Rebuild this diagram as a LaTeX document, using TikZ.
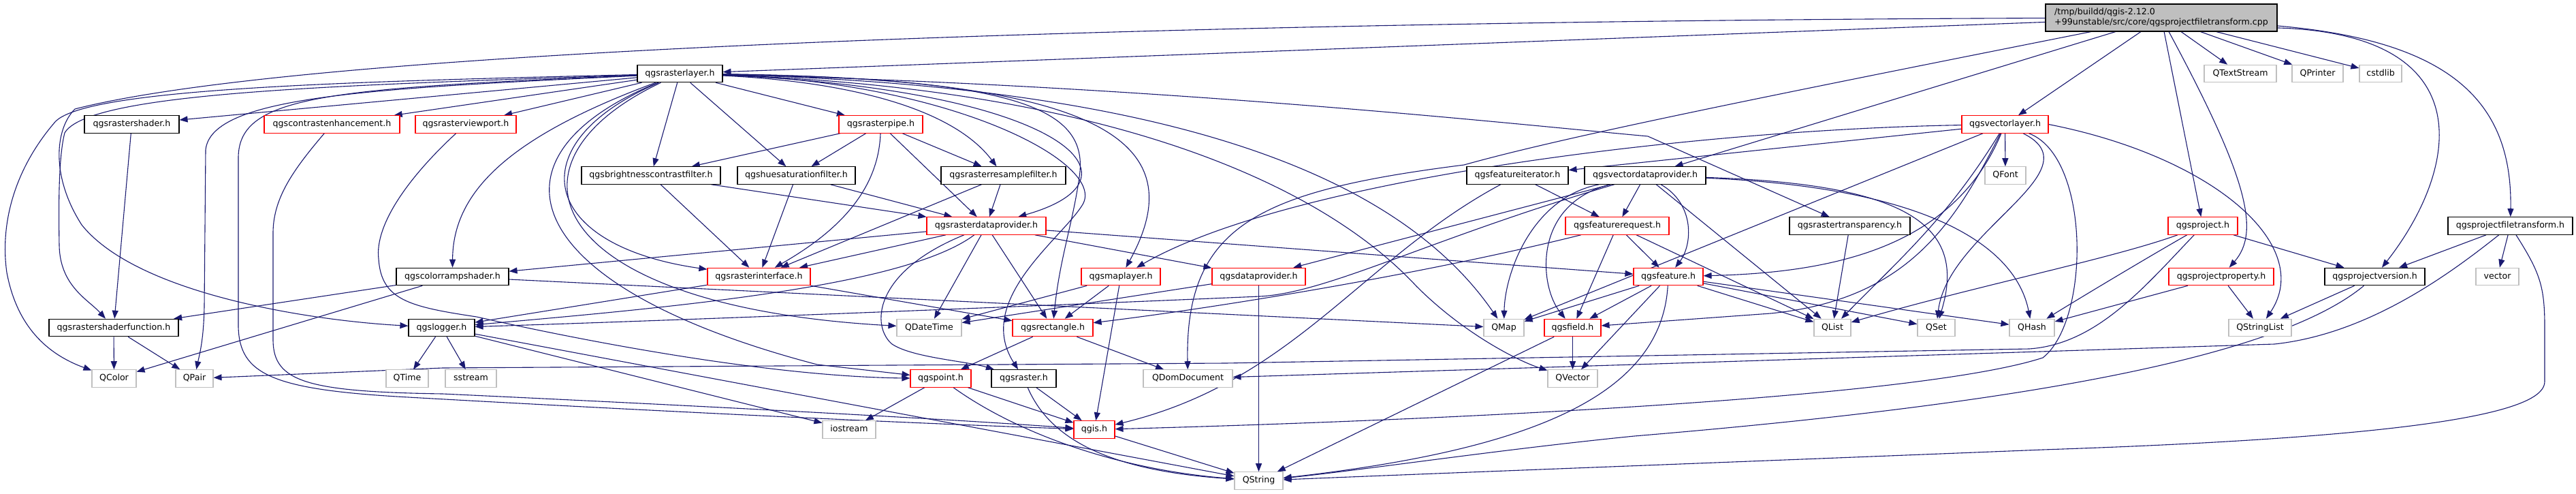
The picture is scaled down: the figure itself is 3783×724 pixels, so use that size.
\documentclass[tikz,border=0pt]{standalone}
\usepackage{fontspec}
\setmainfont{DejaVu Sans}
\usetikzlibrary{arrows.meta}
\pgfdeclarelayer{bglayer}
\pgfdeclarelayer{edgelayer}
\pgfsetlayers{bglayer,edgelayer,main}
\definecolor{edgeblue}{HTML}{191970}
\definecolor{dred}{HTML}{FF0000}
\definecolor{dgray}{HTML}{BFBFBF}
\definecolor{cppfill}{HTML}{BFBFBF}
\newcommand\dxf{\fontsize{12.6pt}{15pt}\selectfont}
\tikzset{
  nbox/.style={draw, line width=1.1pt, minimum height=25.5pt, inner sep=0pt, font=\dxf, text height=9.6pt, text depth=2.9pt, fill=white},
  rbox/.style={nbox, draw=dred},
  kbox/.style={nbox, draw=black},
  gbox/.style={nbox, draw=dgray},
  cppbox/.style={draw=black, fill=cppfill, line width=1.1pt, minimum width=340pt, minimum height=40pt, inner sep=0pt, font=\dxf, align=left},
  dep/.style={draw=edgeblue, line width=1.1pt, -{Triangle[length=12pt,width=9pt]}},
}
\begin{document}
\begin{tikzpicture}[x=1pt,y=-1pt]
\begin{pgfonlayer}{bglayer}
\fill[white] (0,0) rectangle (3783,724);
\end{pgfonlayer}
\useasboundingbox (0,0) rectangle (3783,724);

% nodes
\node[cppbox] (cpp) at (3174,26) {/tmp/buildd/qgis-2.12.0\\+99unstable/src/core/qgsprojectfiletransform.cpp};
\node[kbox, minimum width=125pt] (rl) at (998.5,108) {qgsrasterlayer.h};
\node[gbox, minimum width=106pt] (qts) at (3290,108) {QTextStream};
\node[gbox, minimum width=75pt] (qpr) at (3403.5,108) {QPrinter};
\node[gbox, minimum width=62pt] (csl) at (3496,108) {cstdlib};
\node[kbox, minimum width=139pt] (rsh) at (193.5,182.5) {qgsrastershader.h};
\node[rbox, minimum width=199pt] (ce) at (487.5,182.5) {qgscontrastenhancement.h};
\node[rbox, minimum width=148pt] (vp) at (684,182.5) {qgsrasterviewport.h};
\node[rbox, minimum width=123pt] (rp) at (1293.5,182.5) {qgsrasterpipe.h};
\node[rbox, minimum width=127pt] (vl) at (2944.5,182.5) {qgsvectorlayer.h};
\node[kbox, minimum width=204pt] (bc) at (956,257.5) {qgsbrightnesscontrastfilter.h};
\node[kbox, minimum width=173pt] (hs) at (1169.5,257.5) {qgshuesaturationfilter.h};
\node[kbox, minimum width=183pt] (rrf) at (1473.5,257.5) {qgsrasterresamplefilter.h};
\node[kbox, minimum width=149pt] (fi) at (2228.5,257.5) {qgsfeatureiterator.h};
\node[kbox, minimum width=178pt] (vdp) at (2416,257.5) {qgsvectordataprovider.h};
\node[gbox, minimum width=60pt] (qf) at (2945,257.5) {QFont};
\node[rbox, minimum width=175pt] (rdp) at (1448.5,331.5) {qgsrasterdataprovider.h};
\node[rbox, minimum width=152pt] (fr) at (2375,331.5) {qgsfeaturerequest.h};
\node[kbox, minimum width=177pt] (rt) at (2716.5,331.5) {qgsrastertransparency.h};
\node[rbox, minimum width=102pt] (prj) at (3235,331.5) {qgsproject.h};
\node[kbox, minimum width=183pt] (pft) at (3686.5,331.5) {qgsprojectfiletransform.h};
\node[kbox, minimum width=165pt] (crs) at (664.5,406) {qgscolorrampshader.h};
\node[rbox, minimum width=151pt] (ri) at (1114.5,406) {qgsrasterinterface.h};
\node[rbox, minimum width=116pt] (ml) at (1646,406) {qgsmaplayer.h};
\node[rbox, minimum width=137pt] (dp) at (1848.5,406) {qgsdataprovider.h};
\node[rbox, minimum width=102pt] (feat) at (2450,406) {qgsfeature.h};
\node[rbox, minimum width=154pt] (pp) at (3262,406) {qgsprojectproperty.h};
\node[kbox, minimum width=147pt] (pv) at (3487.5,406) {qgsprojectversion.h};
\node[gbox, minimum width=63pt] (vec) at (3667.5,406) {vector};
\node[kbox, minimum width=190pt] (rsf) at (167,481) {qgsrastershaderfunction.h};
\node[kbox, minimum width=97pt] (lg) at (648.5,481) {qgslogger.h};
\node[gbox, minimum width=95pt] (qdt) at (1364.5,481) {QDateTime};
\node[rbox, minimum width=118pt] (rect) at (1546,481) {qgsrectangle.h};
\node[gbox, minimum width=59pt] (qmap) at (2208.5,481) {QMap};
\node[rbox, minimum width=83pt] (fld) at (2309.5,481) {qgsfield.h};
\node[gbox, minimum width=54pt] (ql) at (2691,481) {QList};
\node[gbox, minimum width=55pt] (qset) at (2843.5,481) {QSet};
\node[gbox, minimum width=66pt] (qh) at (2984,481) {QHash};
\node[gbox, minimum width=92pt] (qsl) at (3319,481) {QStringList};
\node[gbox, minimum width=65pt] (qc) at (167.5,555.5) {QColor};
\node[gbox, minimum width=55pt] (qp) at (285.5,555.5) {QPair};
\node[gbox, minimum width=62pt] (qt) at (598,555.5) {QTime};
\node[gbox, minimum width=75pt] (ss) at (691.5,555.5) {sstream};
\node[rbox, minimum width=89pt] (pt) at (1381.5,555.5) {qgspoint.h};
\node[kbox, minimum width=95pt] (rast) at (1503.5,555.5) {qgsraster.h};
\node[gbox, minimum width=131pt] (qdd) at (1744.5,555.5) {QDomDocument};
\node[gbox, minimum width=73pt] (qv) at (2309.5,555.5) {QVector};
\node[gbox, minimum width=78pt] (ios) at (1247,630.5) {iostream};
\node[rbox, minimum width=60pt] (qgis) at (1607,630.5) {qgis.h};
\node[gbox, minimum width=71pt] (qs) at (1848.5,705.5) {QString};

\begin{pgfonlayer}{edgelayer}
% from the cpp file
\draw[dep] (cpp) -- (rl);
\draw[dep] (cpp) -- (qts);
\draw[dep] (cpp) -- (qpr);
\draw[dep] (cpp) -- (csl);
\draw[dep] (cpp) -- (vl);
\draw[dep] (cpp) -- (vdp);
\draw[dep] (cpp) .. controls (2600,140) and (2300,200) .. (2150,242) .. controls (1850,280) and (1740,330) .. (qdd);
\draw[dep] (cpp) -- (prj);
\draw[dep] (cpp) .. controls (3300,260) and (3320,340) .. (pp);
\draw[dep] (cpp.-4) .. controls (3600,60) and (3690,150) .. (pft);
\draw[dep] (cpp.-5) .. controls (3650,50) and (3610,250) .. (pv);
\draw[dep] (cpp) .. controls (2000,30) and (500,60) .. (110,160) .. controls (80,190) and (75,260) .. (120,330) .. controls (200,430) and (450,470) .. (lg);
% qgsrasterlayer.h
\draw[dep] (rl) -- (rsh);
\draw[dep] (rl) -- (ce);
\draw[dep] (rl) -- (vp);
\draw[dep] (rl) -- (rp);
\draw[dep] (rl) -- (bc);
\draw[dep] (rl) -- (hs);
\draw[dep] (rl) .. controls (1250,120) and (1400,160) .. (rrf);
\draw[dep] (rl) .. controls (1550,130) and (1700,260) .. (rdp);
\draw[dep] (rl) .. controls (1700,125) and (2200,180) .. (2420,200) -- (rt);
\draw[dep] (rl) .. controls (750,200) and (665,280) .. (crs);
\draw[dep] (rl) .. controls (500,125) and (130,135) .. (95,195) .. controls (86,230) and (86,300) .. (87,360) .. controls (88,420) and (130,440) .. (rsf);
\draw[dep] (rl) .. controls (500,120) and (120,130) .. (80,180) .. controls (20,250) and (0,330) .. (10,400) .. controls (25,480) and (70,520) .. (qc);
\draw[dep] (rl) .. controls (550,130) and (310,140) .. (302,220) -- (300,450) .. controls (299,500) and (293,520) .. (qp);
\draw[dep] (rl) .. controls (760,210) and (790,360) .. (ri);
\draw[dep] (rl) .. controls (1600,115) and (1760,200) .. (ml);
\draw[dep] (rl) .. controls (1400,120) and (1625,240) .. (1590,300) .. controls (1560,350) and (1430,440) .. (rast);
\draw[dep] (rl) .. controls (720,240) and (800,450) .. (qdt);
\draw[dep] (rl) .. controls (1700,125) and (2050,250) .. (qmap);
\draw[dep] (rl) .. controls (1650,130) and (1950,280) .. (2080,420) .. controls (2150,490) and (2230,530) .. (qv);
\draw[dep] (rl) .. controls (480,130) and (352,140) .. (350,230) -- (350,480) .. controls (352,550) and (400,572) .. (600,583) .. controls (900,600) and (1300,620) .. (qgis);
\draw[dep] (rl) .. controls (700,230) and (760,420) .. (1200,535) -- (pt);
\draw[dep] (rl) .. controls (1500,115) and (1600,160) .. (1585,260) .. controls (1575,330) and (1556,380) .. (rect);
% raster side
\draw[dep] (rsh) -- (rsf);
\draw[dep] (ce) .. controls (430,250) and (402,290) .. (401,340) -- (401,500) .. controls (402,560) and (450,575) .. (650,578) .. controls (950,592) and (1350,612) .. (qgis);
\draw[dep] (vp) .. controls (600,260) and (550,330) .. (556,380) .. controls (560,440) and (600,450) .. (700,465) .. controls (900,510) and (1150,553) .. (pt);
\draw[dep] (rp) -- (bc);
\draw[dep] (rp) -- (hs);
\draw[dep] (rp) -- (rrf);
\draw[dep] (rp) -- (rdp);
\draw[dep] (rp) .. controls (1290,280) and (1230,340) .. (ri);
\draw[dep] (bc) -- (rdp);
\draw[dep] (bc) -- (ri);
\draw[dep] (hs) -- (rdp);
\draw[dep] (hs) -- (ri);
\draw[dep] (rrf) -- (rdp);
\draw[dep] (rrf) -- (ri);
\draw[dep] (rdp) -- (crs);
\draw[dep] (rdp) -- (ri);
\draw[dep] (rdp) .. controls (1330,420) and (1000,450) .. (lg);
\draw[dep] (rdp) -- (qdt);
\draw[dep] (rdp) .. controls (1280,400) and (1280,480) .. (1310,505) .. controls (1340,525) and (1420,530) .. (rast);
\draw[dep] (rdp) -- (rect);
\draw[dep] (rdp) -- (dp);
\draw[dep] (rdp) -- (feat);
\draw[dep] (crs) -- (rsf);
\draw[dep] (crs) -- (qc);
\draw[dep] (crs) -- (qmap);
\draw[dep] (ri) -- (lg);
\draw[dep] (ri) -- (rect);
\draw[dep] (ml) -- (qdt);
\draw[dep] (ml) -- (rect);
\draw[dep] (ml) -- (qgis);
\draw[dep] (dp) -- (qdt);
\draw[dep] (dp) -- (qs);
% vector side
\draw[dep] (vl) .. controls (2500,190) and (1900,260) .. (ml);
\draw[dep] (vl) -- (fi);
\draw[dep] (vl) -- (qf);
\draw[dep] (vl) .. controls (2870,360) and (2700,400) .. (feat);
\draw[dep] (vl) .. controls (2860,320) and (2790,380) .. (ql);
\draw[dep] (vl) .. controls (3080,250) and (2860,340) .. (qset);
\draw[dep] (vl.east) .. controls (3250,230) and (3400,360) .. (qsl);
\draw[dep] (vl) .. controls (3070,230) and (3070,470) .. (3000,525) .. controls (2800,590) and (2000,620) .. (qgis);
\draw[dep] (vl) -- (qmap);
\draw[dep] (vl) .. controls (2870,330) and (2800,440) .. (2600,460) -- (fld);
\draw[dep] (fi) -- (fr);
\draw[dep] (fi) .. controls (2000,380) and (1900,560) .. (qgis);
\draw[dep] (vdp) -- (fr);
\draw[dep] (vdp) -- (dp);
\draw[dep] (vdp) .. controls (2490,300) and (2485,360) .. (feat);
\draw[dep] (vdp) .. controls (2250,300) and (2260,420) .. (fld);
\draw[dep] (vdp) .. controls (2250,290) and (2210,400) .. (qmap);
\draw[dep] (vdp) -- (ql);
\draw[dep] (vdp) .. controls (2800,270) and (2890,330) .. (qset);
\draw[dep] (vdp) .. controls (2830,275) and (2960,360) .. (qh);
\draw[dep] (vdp) .. controls (2100,350) and (1950,430) .. (1850,435) .. controls (1500,450) and (1000,470) .. (lg);
\draw[dep] (fr) -- (feat);
\draw[dep] (fr) .. controls (2100,400) and (1800,450) .. (rect);
\draw[dep] (fr) -- (fld);
\draw[dep] (fr) -- (ql);
\draw[dep] (rt) -- (ql);
\draw[dep] (feat) -- (fld);
\draw[dep] (feat) -- (qmap);
\draw[dep] (feat) -- (ql);
\draw[dep] (feat) -- (qset);
\draw[dep] (feat) -- (qh);
\draw[dep] (feat) -- (qv);
\draw[dep] (feat) .. controls (2440,580) and (2250,660) .. (qs);
\draw[dep] (fld) -- (qv);
\draw[dep] (fld) -- (qs);
% lower levels
\draw[dep] (rect) -- (pt);
\draw[dep] (rect) -- (qdd);
\draw[dep] (pt) -- (ios);
\draw[dep] (pt) -- (qgis);
\draw[dep] (pt) .. controls (1500,640) and (1650,690) .. (qs);
\draw[dep] (rast) -- (qgis);
\draw[dep] (rast) .. controls (1540,640) and (1620,690) .. (qs);
\draw[dep] (qgis) -- (qs);
\draw[dep] (rsf) -- (qc);
\draw[dep] (rsf) -- (qp);
\draw[dep] (lg) -- (qt);
\draw[dep] (lg) -- (ss);
\draw[dep] (lg) -- (ios);
\draw[dep] (lg) -- (qs);
% project side
\draw[dep] (prj) .. controls (3100,380) and (2900,420) .. (ql);
\draw[dep] (prj) .. controls (3150,380) and (3050,440) .. (qh);
\draw[dep] (prj) .. controls (3150,420) and (3080,505) .. (2980,512) -- (1800,533) -- (650,540) -- (qp);
\draw[dep] (prj) -- (pv);
\draw[dep] (pp) -- (qh);
\draw[dep] (pp) -- (qsl);
\draw[dep] (pv) -- (qsl);
\draw[dep] (pv) .. controls (3350,520) and (3000,590) .. (2400,640) .. controls (2200,660) and (2000,690) .. (qs);
\draw[dep] (pft) -- (pv);
\draw[dep] (pft) -- (vec);
\draw[dep] (pft) .. controls (3600,400) and (3480,490) .. (3340,505) -- (2400,535) -- (qdd);
\draw[dep] (pft) .. controls (3730,400) and (3737,420) .. (3737,480) -- (3737,560) .. controls (3737,600) and (3600,640) .. (3000,660) .. controls (2500,680) and (2100,695) .. (qs);
\end{pgfonlayer}
\end{tikzpicture}
\end{document}
